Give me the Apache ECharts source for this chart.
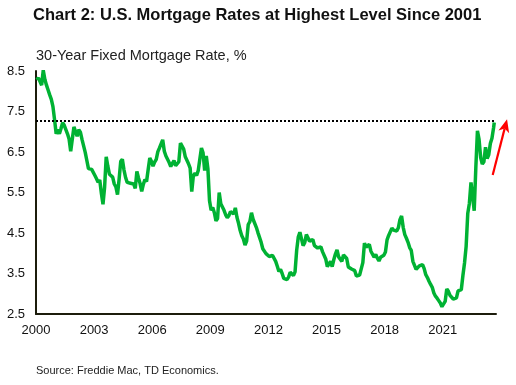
<!DOCTYPE html>
<html>
<head>
<meta charset="utf-8">
<script src="https://cdn.jsdelivr.net/npm/echarts@6/dist/echarts.min.js"></script>
<style>
html,body{margin:0;padding:0;background:#fff;}
#chart{width:516px;height:385px;}
</style>
</head>
<body>
<div id="chart"></div>
<script>
// Monthly 30-year fixed mortgage rate (%)
const rates2000s = [
  8.28, 8.33, 8.24, 8.15, 8.52, 8.29, 8.15, 8.03, 7.91, 7.80, 7.62, 7.30, // 2000
  6.95, 7.05, 6.95, 7.08, 7.22, 7.16, 7.13, 6.95, 6.82, 6.52, 6.48, 7.12, // 2001
  7.10, 6.89, 7.05, 6.99, 6.81, 6.65, 6.49, 6.29, 6.09, 6.11, 6.07, 6.05, // 2002
  5.92, 5.84, 5.75, 5.81, 5.48, 5.21, 5.63, 6.38, 6.15, 5.95, 5.93, 5.88, // 2003
  5.71, 5.64, 5.45, 5.83, 6.27, 6.32, 6.06, 5.87, 5.75, 5.72, 5.73, 5.75, // 2004
  5.71, 5.60, 6.02, 5.86, 5.72, 5.53, 5.70, 5.82, 5.77, 6.07, 6.35, 6.27, // 2005
  6.15, 6.25, 6.32, 6.51, 6.60, 6.70, 6.80, 6.52, 6.40, 6.36, 6.24, 6.14, // 2006
  6.22, 6.29, 6.16, 6.18, 6.26, 6.72, 6.70, 6.57, 6.38, 6.38, 6.21, 6.10, // 2007
  5.52, 5.92, 5.97, 5.92, 6.04, 6.32, 6.60, 6.48, 6.04, 6.40, 6.09, 5.30, // 2008
  5.06, 5.13, 5.00, 4.80, 4.86, 5.50, 5.22, 5.19, 5.06, 4.95, 4.88, 4.93  // 2009
];
const rates2010s = [
  5.03, 4.99, 4.97, 5.12, 4.89, 4.74, 4.56, 4.43, 4.35, 4.20, 4.30, 4.71, // 2010
  4.78, 5.00, 4.84, 4.84, 4.64, 4.51, 4.55, 4.27, 4.11, 4.07, 3.99, 3.96, // 2011
  3.92, 3.89, 3.95, 3.91, 3.80, 3.68, 3.55, 3.60, 3.50, 3.38, 3.35, 3.35, // 2012
  3.41, 3.53, 3.57, 3.45, 3.54, 4.07, 4.40, 4.52, 4.49, 4.19, 4.26, 4.46, // 2013
  4.48, 4.30, 4.34, 4.34, 4.19, 4.16, 4.13, 4.12, 4.16, 4.04, 4.00, 3.86, // 2014
  3.67, 3.71, 3.80, 3.67, 3.84, 3.98, 4.08, 3.91, 3.89, 3.80, 3.96, 3.96, // 2015
  3.87, 3.66, 3.69, 3.61, 3.60, 3.57, 3.44, 3.44, 3.46, 3.47, 3.77, 4.25, // 2016
  4.15, 4.17, 4.22, 4.05, 4.01, 3.90, 3.97, 3.88, 3.81, 3.90, 3.92, 3.95, // 2017
  4.03, 4.33, 4.44, 4.47, 4.62, 4.57, 4.53, 4.55, 4.63, 4.83, 4.92, 4.64, // 2018
  4.46, 4.37, 4.27, 4.14, 4.07, 3.80, 3.77, 3.60, 3.61, 3.69, 3.70, 3.72  // 2019
];
const rates2020s = [
  3.62, 3.47, 3.40, 3.31, 3.23, 3.16, 3.02, 2.94, 2.89, 2.83, 2.77, 2.68, // 2020
  2.70, 2.81, 3.12, 3.06, 2.96, 2.98, 2.87, 2.84, 2.90, 3.07, 3.07, 3.10, // 2021
  3.45, 3.76, 4.17, 4.98, 5.23, 5.75, 5.41, 5.05, 6.11, 7.02, 6.81, 6.36, // 2022
  6.20, 6.26, 6.62, 6.34, 6.43, 6.71, 6.84, 7.10                          // 2023
];
const startYear = 2000;
const lastDate = 2023.66;
const lastRate = 7.23;

// Reference level (highest since 2001) and the red arrow annotation (data space)
const refLevel = 7.28;
const arrowData = [[2023.58, 5.93, 2024.32, 7.31]];

const xTicks = [2000, 2003, 2006, 2009, 2012, 2015, 2018, 2021];
const yTicks = [2.5, 3.5, 4.5, 5.5, 6.5, 7.5, 8.5];

const rates = rates2000s.concat(rates2010s, rates2020s);
const seriesData = rates.map((v, i) => [startYear + (i + 0.5) / 12, v]);
seriesData.push([lastDate, lastRate]);

const chart = echarts.init(document.getElementById('chart'), null, {renderer: 'canvas'});
const font = 'Arial, "Liberation Sans", sans-serif';

function renderArrow(params, api) {
  const p1 = api.coord([api.value(0), api.value(1)]);
  const p2 = api.coord([api.value(2), api.value(3)]);
  const dx = p2[0] - p1[0], dy = p2[1] - p1[1];
  const len = Math.sqrt(dx * dx + dy * dy);
  const ux = dx / len, uy = dy / len;
  const nx = -uy, ny = ux;
  const headLen = 13, headW = 5.5, notch = 3.5;
  const bx = p2[0] - ux * headLen, by = p2[1] - uy * headLen;
  const mx = p2[0] - ux * (headLen - notch), my = p2[1] - uy * (headLen - notch);
  return {
    type: 'group',
    children: [
      {type: 'line', shape: {x1: p1[0], y1: p1[1], x2: mx, y2: my},
       style: {stroke: '#ff0000', lineWidth: 2.2}},
      {type: 'polygon',
       shape: {points: [[p2[0], p2[1]], [bx + nx * headW, by + ny * headW], [mx, my], [bx - nx * headW, by - ny * headW]]},
       style: {fill: '#ff0000'}}
    ]
  };
}

chart.setOption({
  animation: false,
  backgroundColor: '#ffffff',
  title: [
    {text: 'Chart 2: U.S. Mortgage Rates at Highest Level Since 2001', left: 33, top: 7, padding: 0,
     textStyle: {fontFamily: font, fontSize: 16.5, fontWeight: 'bold', color: '#111'}},
    {text: '30-Year Fixed Mortgage Rate, %', left: 36, top: 48, padding: 0,
     textStyle: {fontFamily: font, fontSize: 14.5, fontWeight: 'normal', color: '#222'}},
    {text: 'Source: Freddie Mac, TD Economics.', left: 36, top: 365, padding: 0,
     textStyle: {fontFamily: font, fontSize: 11, fontWeight: 'normal', color: '#222'}}
  ],
  grid: {left: 36, right: 20, top: 71, bottom: 71, containLabel: false},
  xAxis: {
    type: 'value', min: 2000, max: 2023.75, interval: 3,
    axisLine: {show: true, lineStyle: {color: '#1c1c0c', width: 2}},
    axisTick: {show: false}, splitLine: {show: false},
    axisLabel: {margin: 10, fontFamily: font, fontSize: 13, color: '#111',
      formatter: v => (xTicks.indexOf(Math.round(v * 1000) / 1000) >= 0 ? String(v) : '')}
  },
  yAxis: {
    type: 'value', min: 2.5, max: 8.5, interval: 0.5,
    axisLine: {show: true, lineStyle: {color: '#1c1c0c', width: 2}},
    axisTick: {show: false}, splitLine: {show: false},
    axisLabel: {margin: 11, fontFamily: font, fontSize: 13, color: '#111',
      formatter: v => (yTicks.indexOf(Math.round(v * 10) / 10) >= 0 ? v.toFixed(1) : '')}
  },
  series: [
    {
      type: 'line', data: seriesData, showSymbol: false, symbol: 'none',
      lineStyle: {color: '#00b233', width: 3.5}, itemStyle: {color: '#00b233'},
      z: 3,
      markLine: {
        silent: true, symbol: 'none', animation: false,
        label: {show: false},
        lineStyle: {color: '#000', type: 'dotted', width: 2},
        data: [[{coord: [startYear, refLevel]}, {coord: [lastDate, refLevel]}]]
      }
    },
    {
      type: 'custom', clip: false, z: 4, silent: true,
      encode: {x: [0, 2], y: [1, 3]},
      data: arrowData,
      renderItem: renderArrow
    }
  ]
});
</script>
</body>
</html>
